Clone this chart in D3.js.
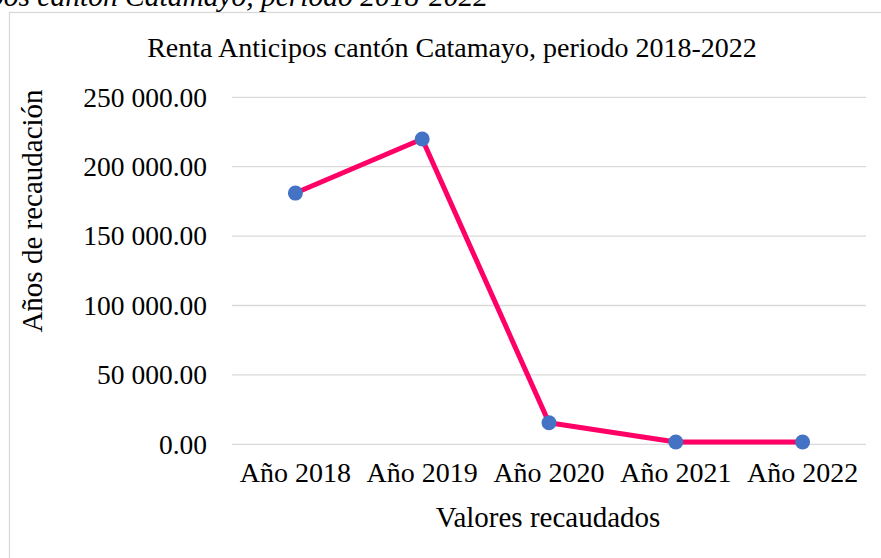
<!DOCTYPE html>
<html>
<head>
<meta charset="utf-8">
<script src="https://cdn.jsdelivr.net/npm/d3@7"></script>
<style>
  body { margin: 0; background: #fff; }
  svg text { font-family: "Liberation Serif", "Times New Roman", serif; fill: #000; }
</style>
</head>
<body>
<svg id="chart" width="881" height="558"></svg>
<script>
// data
var years = ["Año 2018", "Año 2019", "Año 2020", "Año 2021", "Año 2022"];
var values = [181000, 220000, 15500, 1650, 1650];
var yTicks = [0, 50000, 100000, 150000, 200000, 250000];

var svg = d3.select("#chart");

// plot area
var plotLeft = 232, plotRight = 866, plotTop = 97.3, plotBottom = 444.3;

var x = d3.scaleBand().domain(years).range([plotLeft, plotRight]);
var y = d3.scaleLinear().domain([0, 250000]).range([plotBottom, plotTop]);

// chart frame (cut at right/bottom edge like the scan)
svg.append("rect")
  .attr("x", 9.5).attr("y", 12.5)
  .attr("width", 900).attr("height", 600)
  .attr("fill", "none").attr("stroke", "#d9d9d9").attr("stroke-width", 1.3);

// caption above the chart, cropped at the top
svg.append("text")
  .attr("x", 488).attr("y", 6)
  .attr("text-anchor", "end")
  .style("font-style", "italic")
  .style("font-size", "29.5px")
  .text("Figura 1. Renta Anticipos cantón Catamayo, periodo 2018-2022");

// gridlines
svg.append("g").selectAll("line")
  .data(yTicks)
  .enter().append("line")
  .attr("x1", plotLeft).attr("x2", plotRight)
  .attr("y1", function(d) { return y(d); })
  .attr("y2", function(d) { return y(d); })
  .attr("stroke", "#d9d9d9").attr("stroke-width", 1.3);

// y axis labels, space as thousands separator
var fmt = function(d) {
  return d3.format(",.2f")(d).replace(/,/g, " ");
};
var yAxis = svg.append("g")
  .attr("transform", "translate(" + plotLeft + ",0)")
  .call(d3.axisLeft(y).tickValues(yTicks).tickFormat(fmt).tickSize(0).tickPadding(25));
yAxis.select(".domain").remove();
yAxis.selectAll("text")
  .style("font-family", "Liberation Serif, serif")
  .style("font-size", "27.5px")
  .attr("fill", "#000");

// x axis labels
var xAxis = svg.append("g")
  .attr("transform", "translate(0," + plotBottom + ")")
  .call(d3.axisBottom(x).tickSize(0).tickPadding(18));
xAxis.select(".domain").remove();
xAxis.selectAll("text")
  .style("font-family", "Liberation Serif, serif")
  .style("font-size", "28px")
  .attr("fill", "#000");

// title
svg.append("text")
  .attr("x", 452).attr("y", 57)
  .attr("text-anchor", "middle")
  .style("font-size", "28px")
  .text("Renta Anticipos cantón Catamayo, periodo 2018-2022");

// axis titles
svg.append("text")
  .attr("x", 548).attr("y", 527)
  .attr("text-anchor", "middle")
  .style("font-size", "29px")
  .text("Valores recaudados");

svg.append("text")
  .attr("transform", "translate(42,211) rotate(-90)")
  .attr("text-anchor", "middle")
  .style("font-size", "29px")
  .text("Años de recaudación");

// the line
var line = d3.line()
  .x(function(d, i) { return x(years[i]) + x.bandwidth() / 2; })
  .y(function(d) { return y(d); });

svg.append("path")
  .datum(values)
  .attr("d", line)
  .attr("fill", "none")
  .attr("stroke", "#ff0066")
  .attr("stroke-width", 5)
  .attr("stroke-linejoin", "round");

// markers
svg.append("g").selectAll("circle")
  .data(values)
  .enter().append("circle")
  .attr("cx", function(d, i) { return x(years[i]) + x.bandwidth() / 2; })
  .attr("cy", function(d) { return y(d); })
  .attr("r", 7.5)
  .attr("fill", "#4472c4");
</script>
</body>
</html>
